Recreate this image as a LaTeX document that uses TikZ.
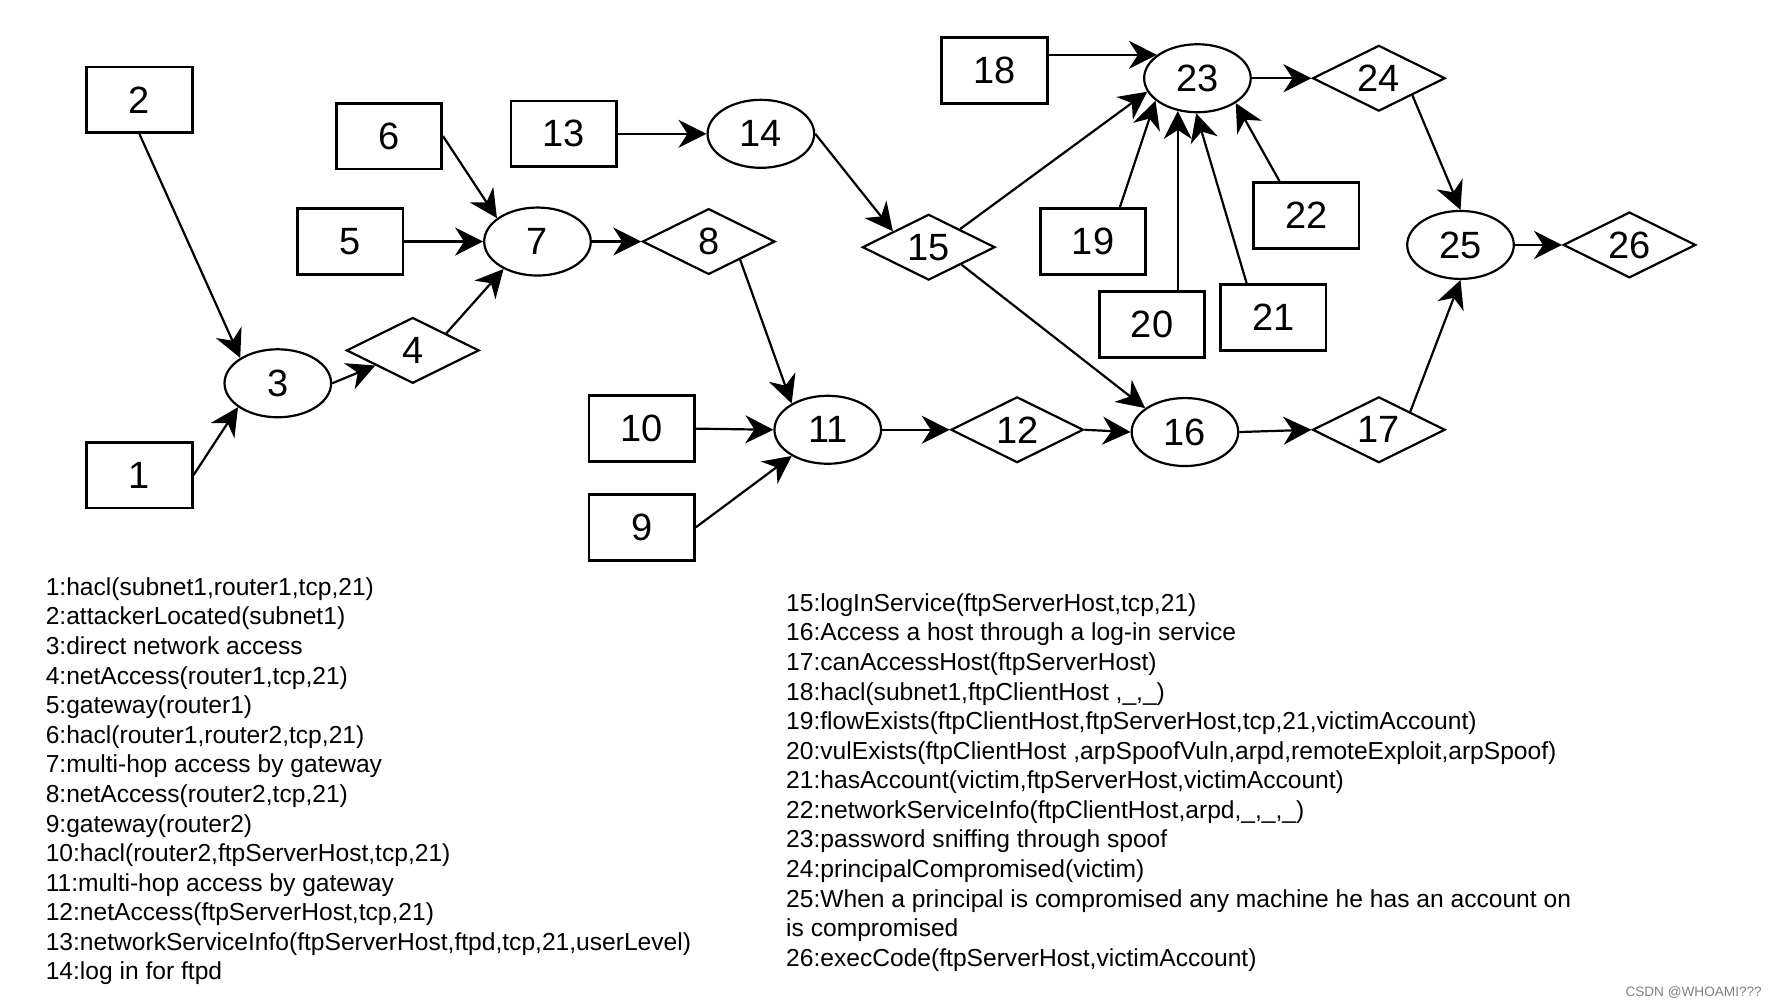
\documentclass[tikz,border=0pt]{standalone}
\usepackage{fontspec}
\setmainfont{Liberation Sans}
\usetikzlibrary{shapes.geometric,arrows.meta}

\begin{document}
\begin{tikzpicture}[x=0.567pt,y=-0.567pt,>={Stealth[length=14pt,width=14pt,inset=4.5pt]},fact/.style={shape=rectangle,draw=black,line width=1.35pt,minimum width=52.7pt,minimum height=32.9pt,inner sep=0pt,font=\fontsize{19}{19}\selectfont},rulenode/.style={shape=ellipse,draw=black,line width=1.1pt,minimum width=53.3pt,minimum height=34pt,inner sep=0pt,font=\fontsize{19}{19}\selectfont},goal/.style={shape=diamond,aspect=2,draw=black,line width=1.1pt,minimum width=66.3pt,minimum height=32.9pt,inner sep=0pt,font=\fontsize{19}{19}\selectfont},leads/.style={->,line width=1.1pt},legend/.style={anchor=north west,align=left,inner sep=0pt,font=\fontsize{12.3}{14.79}\selectfont}]
\useasboundingbox (0,0) rectangle (1568,886);

\node[fact] (n2) at (123,88) {2};
\node[fact] (n1) at (123,419) {1};
\node[rulenode] (n3) at (245,338) {3};
\draw[leads] (n2.south) -- (n3.146);
\draw[leads] (n1.east) -- (n3.211);
\node[goal] (n4) at (364,309) {4};
\draw[leads] (n3.east) -- (n4.202);

\node[fact] (n6) at (343,120) {6};
\node[fact] (n5) at (309,213) {5};
\node[rulenode] (n7) at (474,213) {7};
\draw[leads] (n6.east) -- (n7.150);
\draw[leads] (n5.east) -- (n7.west);
\draw[leads] (n4.27) -- (n7.219);
\node[goal] (n8) at (625,213) {8};
\draw[leads] (n7.east) -- (n8.west);

\node[fact] (n13) at (497,118) {13};
\node[rulenode] (n14) at (671,118) {14};
\draw[leads] (n13.east) -- (n14.west);
\node[goal] (n15) at (819,218) {15};
\draw[leads] (n14.east) -- (n15.156);

\node[fact] (n10) at (566,378) {10};
\node[fact] (n9) at (566,465) {9};
\node[rulenode] (n11) at (730,379) {11};
\draw[leads] (n8.330) -- (n11.144);
\draw[leads] (n10.east) -- (n11.west);
\draw[leads] (n9.east) -- (n11.216);
\node[goal] (n12) at (897,379) {12};
\draw[leads] (n11.east) -- (n12.west);
\node[rulenode] (n16) at (1045,381) {16};
\draw[leads] (n12.east) -- (n16.west);
\draw[leads] (n15.332) -- (n16.149);
\node[goal] (n17) at (1216,379) {17};
\draw[leads] (n16.east) -- (n17.west);

\node[fact] (n18) at (877,62) {18};
\node[rulenode] (n23) at (1056,69) {23};
\node[fact] (n19) at (964,213) {19};
\node[fact] (n20) at (1016,286) {20};
\node[fact] (n21) at (1123,280) {21};
\node[fact] (n22) at (1152,190) {22};
\draw[leads] (n23.150 -| n18.east) -- (n23.150);
\draw[leads] (n15.30) -- (n23.195);
\draw[leads] (n19.52) -- (n23.208);
\draw[leads] (n23.239 |- n20.north) -- (n23.239);
\draw[leads] (n21.128) -- (n23.268);
\draw[leads] (n22.128) -- (n23.327);
\node[goal] (n24) at (1216,69) {24};
\draw[leads] (n23.east) -- (n24.west);

\node[rulenode] (n25) at (1288,216) {25};
\draw[leads] (n24.333) -- (n25.north);
\draw[leads] (n17.30) -- (n25.south);
\node[goal] (n26) at (1437,216) {26};
\draw[leads] (n25.east) -- (n26.west);

% legend
\node[legend] (keyl) at (40,509) {1:hacl(subnet1,router1,tcp,21)\\
2:attackerLocated(subnet1)\\
3:direct network access\\
4:netAccess(router1,tcp,21)\\
5:gateway(router1)\\
6:hacl(router1,router2,tcp,21)\\
7:multi-hop access by gateway\\
8:netAccess(router2,tcp,21)\\
9:gateway(router2)\\
10:hacl(router2,ftpServerHost,tcp,21)\\
11:multi-hop access by gateway\\
12:netAccess(ftpServerHost,tcp,21)\\
13:networkServiceInfo(ftpServerHost,ftpd,tcp,21,userLevel)\\
14:log in for ftpd};
\node[legend] (keyr) at (693,523) {15:logInService(ftpServerHost,tcp,21)\\
16:Access a host through a log-in service\\
17:canAccessHost(ftpServerHost)\\
18:hacl(subnet1,ftpClientHost ,\_,\_)\\
19:flowExists(ftpClientHost,ftpServerHost,tcp,21,victimAccount)\\
20:vulExists(ftpClientHost ,arpSpoofVuln,arpd,remoteExploit,arpSpoof)\\
21:hasAccount(victim,ftpServerHost,victimAccount)\\
22:networkServiceInfo(ftpClientHost,arpd,\_,\_,\_)\\
23:password sniffing through spoof\\
24:principalCompromised(victim)\\
25:When a principal is compromised any machine he has an account on\\
is compromised\\
26:execCode(ftpServerHost,victimAccount)};
\node[anchor=east,inner sep=0pt,text=gray,font=\fontsize{6.8}{7}\selectfont] (mark) at (1554,875) {CSDN @WHOAMI???};
\end{tikzpicture}
\end{document}
